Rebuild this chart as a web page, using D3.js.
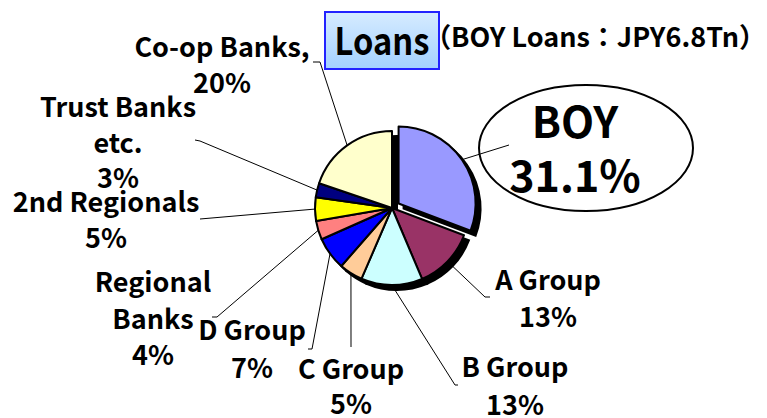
<!DOCTYPE html>
<html>
<head>
<meta charset="utf-8">
<script src="https://cdn.jsdelivr.net/npm/d3@7/dist/d3.min.js"></script>
<style>
  body { margin: 0; background: #fff; }
  svg text { font-family: "Noto Sans CJK JP", "DejaVu Sans", sans-serif; font-weight: bold; fill: #000; }
</style>
</head>
<body>
<div id="chart"></div>
<script>
// loan share by lender (%), clockwise from 12 o'clock
const categories = ['BOY', 'A Group', 'B Group', 'C Group', 'D Group', 'Regional Banks', '2nd Regionals', 'Trust Banks etc.', 'Co-op Banks'];
const shares = [31.1, 13, 13, 5, 7, 4, 5, 3, 20];
const sliceColors = ['#9999ff', '#993366', '#ccffff', '#ffcc99', '#0000ff', '#ff8080', '#ffff00', '#000080', '#ffffcc'];
const labelLines = [
  ['BOY'], ['A Group'], ['B Group'], ['C Group'], ['D Group'],
  ['Regional', 'Banks'], ['2nd Regionals'], ['Trust Banks', 'etc.'], ['Co-op Banks,']
];
const pctText = ['31.1%', '13%', '13%', '5%', '7%', '4%', '5%', '3%', '20%'];
const titleText = 'Loans';
const subtitleText = '（BOY Loans：JPY6.8Tn）';

const width = 767, height = 418;
const cx = 392, cy = 208, radius = 77;
const explode = 8;
const shadow = { dx: 5, dy: 5 };

// label layout: center x, first baseline, line spacing, and where the leader attaches
const labelLayout = [
  { x: 575, y: 138, lh: 54, size: 43, leader: [[509, 145]] },
  { x: 548, y: 290, lh: 37, size: 27, leader: [[490, 297], [485, 297]] },
  { x: 515, y: 377, lh: 38, size: 27, leader: [[458, 385], [455, 385]] },
  { x: 351, y: 379, lh: 35, size: 27, leader: [[351, 347]] },
  { x: 252, y: 340, lh: 38, size: 27, leader: [[308, 349], [312, 349]] },
  { x: 153, y: 292, lh: 36.5, size: 27, leader: [[212, 317], [217, 317]] },
  { x: 106, y: 212, lh: 36, size: 27, leader: [[200, 219]] },
  { x: 118, y: 117, lh: 35.5, size: 27, leader: [[195, 140], [200, 141]] },
  { x: 222, y: 57, lh: 36, size: 27, leader: [[313, 62], [320, 62]] }
];

const data = categories.map((c, i) => ({ name: c, value: shares[i], color: sliceColors[i], lines: labelLines[i], pct: pctText[i], layout: labelLayout[i] }));

const svg = d3.select('#chart').append('svg')
  .attr('width', width)
  .attr('height', height);

const defs = svg.append('defs');
const grad = defs.append('linearGradient').attr('id', 'titleFill')
  .attr('x1', 0).attr('y1', 0).attr('x2', 0).attr('y2', 1);
grad.append('stop').attr('offset', '0%').attr('stop-color', '#d6ebff');
grad.append('stop').attr('offset', '100%').attr('stop-color', '#a3d1ff');

const pie = d3.pie().sort(null).value(d => d.value);
const arcs = pie(data);
const arc = d3.arc().innerRadius(0).outerRadius(radius);

const offsetOf = (d, i) => {
  if (i !== 0) return [0, 0];
  const a = (d.startAngle + d.endAngle) / 2;
  return [explode * Math.sin(a), -explode * Math.cos(a)];
};

// BOY callout ellipse
svg.append('ellipse')
  .attr('cx', 586).attr('cy', 148)
  .attr('rx', 107).attr('ry', 63)
  .attr('fill', '#fff')
  .attr('stroke', '#000')
  .attr('stroke-width', 2);

// leader lines (under the pie, so the shadow hides their inner end)
const leaders = svg.append('g').attr('class', 'leaders');
arcs.forEach((d, i) => {
  const a = (d.startAngle + d.endAngle) / 2;
  const off = offsetOf(d, i);
  const edge = [cx + off[0] + radius * Math.sin(a), cy + off[1] - radius * Math.cos(a)];
  const pts = d.data.layout.leader.concat([edge]);
  leaders.append('path')
    .attr('d', d3.line()(pts))
    .attr('fill', 'none')
    .attr('stroke', '#000')
    .attr('stroke-width', 1);
});

// shadow
const shadowG = svg.append('g')
  .attr('transform', `translate(${cx + shadow.dx}, ${cy + shadow.dy})`);
shadowG.selectAll('path')
  .data(arcs)
  .enter()
  .append('path')
  .attr('d', arc)
  .attr('transform', (d, i) => `translate(${offsetOf(d, i)})`)
  .attr('fill', '#000')
  .attr('stroke', '#000')
  .attr('stroke-width', 2);

// slices
const pieG = svg.append('g')
  .attr('transform', `translate(${cx}, ${cy})`);
pieG.selectAll('path')
  .data(arcs)
  .enter()
  .append('path')
  .attr('d', arc)
  .attr('transform', (d, i) => `translate(${offsetOf(d, i)})`)
  .attr('fill', d => d.data.color)
  .attr('stroke', '#000')
  .attr('stroke-width', 2)
  .attr('stroke-linejoin', 'round');

// labels
const labels = svg.append('g').attr('class', 'labels');
data.forEach(d => {
  const L = d.layout;
  const t = labels.append('text')
    .attr('text-anchor', 'middle')
    .attr('font-size', L.size)
    .attr('transform', `translate(${L.x}, 0)`);
  d.lines.concat([d.pct]).forEach((s, k) => {
    t.append('tspan').attr('x', 0).attr('y', L.y + k * L.lh).text(s);
  });
});

// title
svg.append('rect')
  .attr('x', 325).attr('y', 12)
  .attr('width', 114).attr('height', 57)
  .attr('fill', 'url(#titleFill)')
  .attr('stroke', '#2222ff')
  .attr('stroke-width', 2);
svg.append('text')
  .attr('text-anchor', 'middle')
  .attr('font-size', 38)
  .attr('transform', 'translate(382, 55) scale(0.86, 1)')
  .text(titleText);
svg.append('text')
  .attr('text-anchor', 'end')
  .attr('font-size', 27)
  .attr('transform', 'translate(766, 47)')
  .text(subtitleText);
</script>
</body>
</html>
